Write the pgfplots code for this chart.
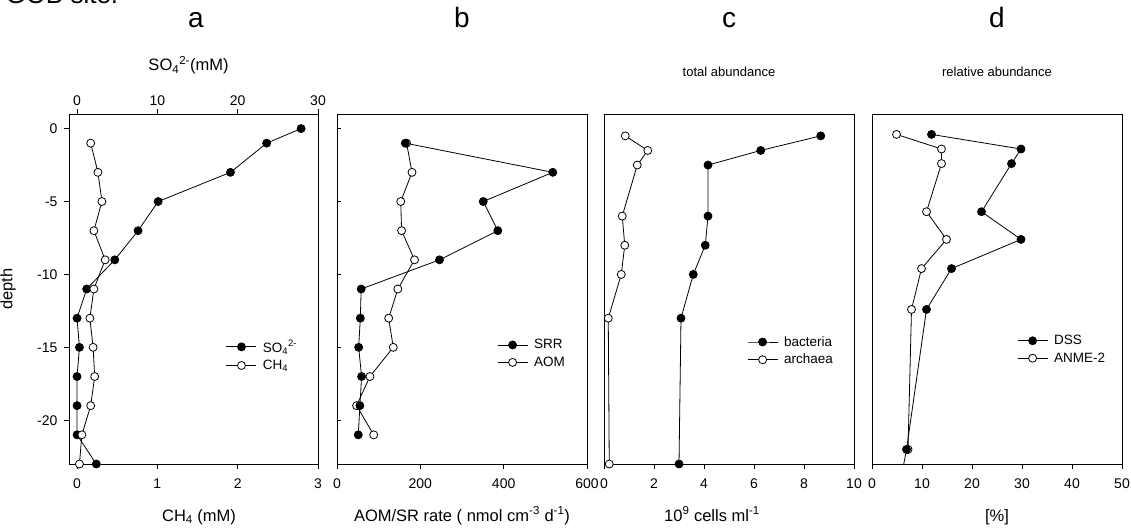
\documentclass[border=0pt]{standalone}
\usepackage{fontspec}
\setmainfont{Liberation Sans}
\usepackage{pgfplots}
\pgfplotsset{compat=1.18}

\pgfplotsset{
  panel/.style={
    scale only axis, width=250pt, height=350pt, anchor=south west,
    ymin=-23, ymax=1,
    axis line style={line width=0.9pt},
    every tick/.style={black, line width=0.9pt},
    major tick length=5pt,
    tick align=outside,
    /pgf/number format/assume math mode=true,
    ticklabel style={font=\fontsize{14}{16}\selectfont},
    label style={font=\fontsize{16.5}{19}\selectfont},
    legend cell align=left,
    legend style={draw=none, fill=none, inner sep=0pt, anchor=north west,
      font=\fontsize{13.5}{16}\selectfont, row sep=2.5pt,
      nodes={inner xsep=6pt}},
  },
  bottom/.style={
    xtick pos=bottom,
    xticklabel style={yshift=-6pt},
    xlabel style={at={(axis description cs:0.5,0)}, anchor=base, yshift=-57pt},
  },
  full/.style={black, line width=0.8pt, mark=*, mark size=4pt, mark options={fill=black, solid}},
  open/.style={black, line width=0.8pt, mark=*, mark size=4pt, mark options={fill=white, solid}},
}

\begin{document}
\begin{tikzpicture}
\path[use as bounding box, clip] (0pt,0pt) rectangle (1131pt,531pt);

\node[anchor=base west, font=\fontsize{26}{30}\selectfont] at (2pt,527pt) {GOB site.};
\node[anchor=base, font=\fontsize{28}{32}\selectfont] at (196pt,503pt) {a};
\node[anchor=base, font=\fontsize{28}{32}\selectfont] at (462pt,503pt) {b};
\node[anchor=base, font=\fontsize{28}{32}\selectfont] at (729pt,503pt) {c};
\node[anchor=base, font=\fontsize{28}{32}\selectfont] at (997pt,503pt) {d};
\node[anchor=base, font=\fontsize{13}{15}\selectfont] at (729pt,454pt) {total abundance};
\node[anchor=base, font=\fontsize{13}{15}\selectfont] at (997pt,454pt) {relative abundance};

% panel a: sulfate on the top axis
\begin{axis}[panel, at={(69pt,67pt)}, width=249pt,
  xmin=-1, xmax=30, axis x line*=top, axis y line=none,
  xtick={0,10,20,30},
  xlabel={SO\textsubscript{4}\textsuperscript{2-}(mM)},
  xlabel style={at={(axis description cs:0.5,1)}, anchor=base, yshift=43pt, xshift=-5pt},
  legend image code/.code={\draw[mark repeat=2,mark phase=2,#1] plot coordinates {(0pt,0pt)(15pt,0pt)(30pt,0pt)};},
  legend style={at={(0.63,0.36)}}]
\addplot[full] coordinates {(27.9,0)(23.6,-1)(19.1,-3)(10.1,-5)(7.6,-7)(4.7,-9)(1.2,-11)(0,-13)(0.3,-15)(0,-17)(0,-19)(0,-21)(2.4,-23)};
\addlegendentry{SO\textsubscript{4}\textsuperscript{2-}}
\addlegendimage{open}
\addlegendentry{CH\textsubscript{4}}
\end{axis}

% panel a: methane on the bottom axis
\begin{axis}[panel, bottom, at={(69pt,67pt)}, width=249pt,
  xmin=-0.1, xmax=3, xtick={0,1,2,3}, ytick pos=left,
  ytick={-20,-15,-10,-5,0}, yticklabel style={xshift=-3pt},
  xlabel={CH\textsubscript{4} (mM)}, xlabel style={xshift=5.5pt},
  ylabel={depth},
  ylabel style={at={(axis description cs:0,0.5)}, anchor=center, yshift=61pt}]
\addplot[open] coordinates {(0.17,-1)(0.26,-3)(0.31,-5)(0.21,-7)(0.35,-9)(0.21,-11)(0.16,-13)(0.2,-15)(0.22,-17)(0.17,-19)(0.06,-21)(0.03,-23)};
\end{axis}

% panel b
\begin{axis}[panel, bottom, at={(337pt,67pt)},
  xmin=0, xmax=600, xtick={0,200,400,600}, ytick=\empty,
  xlabel={AOM/SR rate ( nmol cm\textsuperscript{-3} d\textsuperscript{-1})},
  legend image code/.code={\draw[mark repeat=2,mark phase=2,#1] plot coordinates {(0pt,0pt)(15pt,0pt)(30pt,0pt)};},
  legend style={at={(0.64,0.362)}}, reverse legend]
\addplot[open] coordinates {(167,-1)(180,-3)(153,-5)(155,-7)(186,-9)(146,-11)(124,-13)(135,-15)(79,-17)(47,-19)(88,-21)};
\addlegendentry{AOM}
\addplot[full] coordinates {(164,-1)(518,-3)(351,-5)(386,-7)(246,-9)(58,-11)(56,-13)(52,-15)(59,-17)(55,-19)(51,-21)};
\addlegendentry{SRR}
\end{axis}
\begin{axis}[panel, at={(337pt,67pt)},
  xmin=0, xmax=600, axis x line=none, axis y line*=left, tick align=inside,
  major tick length=4pt, ytick={-20,-15,-10,-5,0}, yticklabels={}]
\end{axis}

% panel c
\begin{axis}[panel, bottom, at={(604pt,67pt)},
  xmin=0, xmax=10, xtick={0,2,4,6,8,10}, ytick=\empty,
  xlabel={10\textsuperscript{9} cells ml\textsuperscript{-1}}, xlabel style={xshift=-17pt},
  legend image code/.code={\draw[mark repeat=2,mark phase=2,#1] plot coordinates {(0pt,0pt)(15pt,0pt)(30pt,0pt)};},
  legend style={at={(0.572,0.371)}}]
\addplot[full] coordinates {(8.67,-0.5)(6.27,-1.5)(4.16,-2.5)(4.16,-6)(4.05,-8)(3.57,-10)(3.08,-13)(3.0,-23)};
\addlegendentry{bacteria}
\addplot[open] coordinates {(0.85,-0.5)(1.75,-1.5)(1.33,-2.5)(0.73,-6)(0.83,-8)(0.69,-10)(0.17,-13)(0.21,-23)};
\addlegendentry{archaea}
\end{axis}

% panel d
\begin{axis}[panel, bottom, at={(872pt,67pt)},
  xmin=0, xmax=50, xtick={0,10,20,30,40,50}, ytick=\empty,
  xlabel={[\%]},
  legend image code/.code={\draw[mark repeat=2,mark phase=2,#1] plot coordinates {(0pt,0pt)(15pt,0pt)(30pt,0pt)};},
  legend style={at={(0.58,0.374)}}, reverse legend]
\addplot[open] coordinates {(4.9,-0.4)(13.9,-1.4)(13.9,-2.4)(10.9,-5.7)(14.9,-7.6)(9.9,-9.6)(7.9,-12.4)(7.2,-22)};
\addlegendentry{ANME-2}
\addplot[black, line width=0.8pt, forget plot] coordinates {(6.9,-22)(5.8,-24)};
\addplot[full] coordinates {(11.9,-0.4)(29.8,-1.4)(27.9,-2.4)(21.9,-5.7)(29.8,-7.6)(15.9,-9.6)(10.9,-12.4)(6.9,-22)};
\addlegendentry{DSS}
\end{axis}
\end{tikzpicture}
\end{document}
